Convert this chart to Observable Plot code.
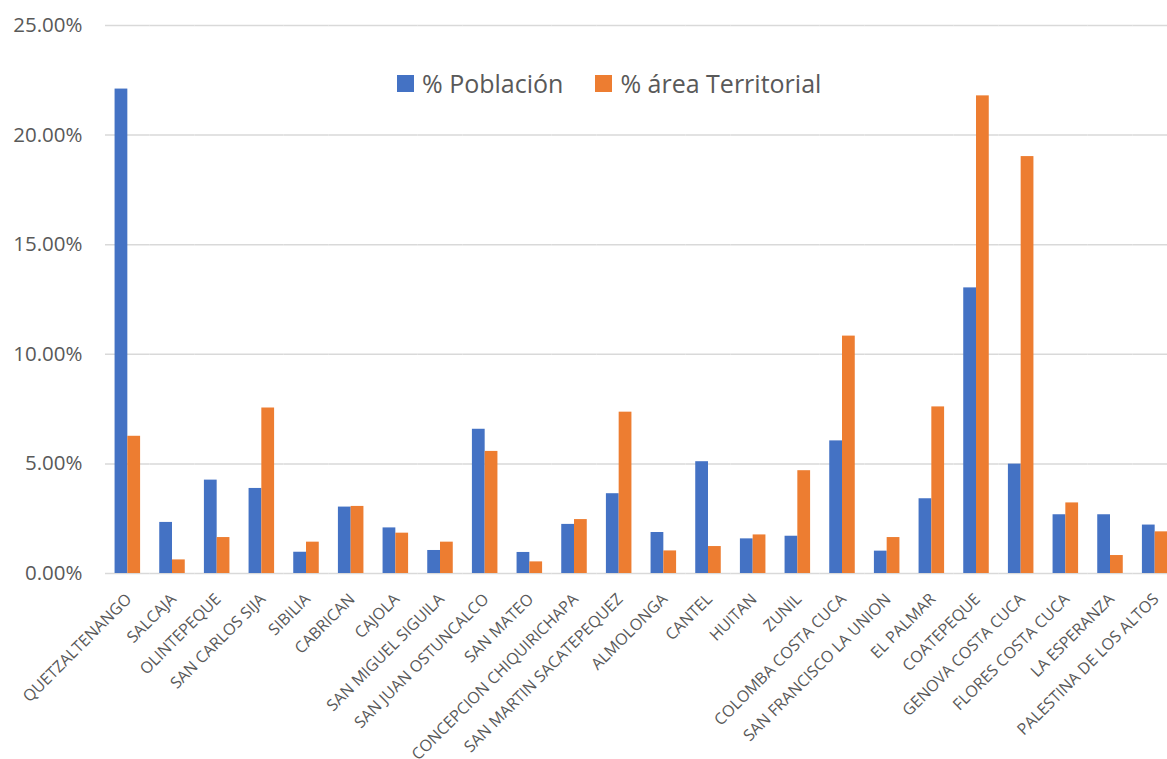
<!DOCTYPE html>
<html><head><meta charset="utf-8">
<script src="https://cdn.jsdelivr.net/npm/d3@7"></script>
<script src="https://cdn.jsdelivr.net/npm/@observablehq/plot@0.6"></script>
<style>
body{margin:0;background:#fff;font-family:"Open Sans",sans-serif;overflow:hidden}
#wrap{position:relative;width:1167px;height:759px;overflow:hidden}
#legend{position:absolute;top:66px;left:397px;display:flex;align-items:center;font-size:25px;line-height:34px;color:#595959;font-family:"Open Sans",sans-serif}
#legend .item{display:flex;align-items:center;margin-right:32px}
#legend .sw{width:17px;height:17px;margin-right:8px}
</style></head>
<body>
<div id="wrap"><div id="chart"></div><div id="legend"></div></div>
<script>
const categories = ["QUETZALTENANGO","SALCAJA","OLINTEPEQUE","SAN CARLOS SIJA","SIBILIA","CABRICAN","CAJOLA","SAN MIGUEL SIGUILA","SAN JUAN OSTUNCALCO","SAN MATEO","CONCEPCION CHIQUIRICHAPA","SAN MARTIN SACATEPEQUEZ","ALMOLONGA","CANTEL","HUITAN","ZUNIL","COLOMBA COSTA CUCA","SAN FRANCISCO LA UNION","EL PALMAR","COATEPEQUE","GENOVA COSTA CUCA","FLORES COSTA CUCA","LA ESPERANZA","PALESTINA DE LOS ALTOS"];
const series = ["% Población","% área Territorial"];
const seriesColors = ["#4472C4","#ED7D31"];
const poblacion = [0.2210,0.0233,0.0426,0.0388,0.0097,0.0303,0.0208,0.0105,0.0658,0.0096,0.0224,0.0364,0.0187,0.0510,0.0158,0.0170,0.0605,0.0102,0.0341,0.1303,0.0499,0.0268,0.0268,0.0221];
const area = [0.0626,0.0062,0.0164,0.0755,0.0143,0.0306,0.0184,0.0143,0.0557,0.0053,0.0246,0.0736,0.0103,0.0123,0.0176,0.0469,0.1083,0.0164,0.0760,0.2179,0.1902,0.0322,0.0082,0.0190];
const yTicks = [0,0.05,0.10,0.15,0.20,0.25];

const data = [];
categories.forEach((c,i)=>{
  data.push({cat:c, serie:series[0], value:poblacion[i]});
  data.push({cat:c, serie:series[1], value:area[i]});
});

const chart = Plot.plot({
  width:1167, height:759,
  marginLeft:105, marginRight:-10, marginTop:25, marginBottom:186,
  style:{fontFamily:"'Open Sans', sans-serif", background:"#fff"},
  fx:{domain:categories, paddingInner:0, paddingOuter:0, round:false},
  x:{domain:series, paddingInner:0, paddingOuter:0.75, round:false, axis:null},
  y:{domain:[0,0.25]},
  color:{domain:series, range:seriesColors},
  marks:[
    Plot.gridY(yTicks,{stroke:"#d9d9d9", strokeOpacity:1, strokeWidth:1.5}),
    Plot.axisY(yTicks,{tickFormat:d3.format(".2%"), tickSize:0, tickPadding:23, fontSize:20.5, fill:"#595959", label:null}),
    Plot.axisFx({anchor:"bottom", tickRotate:-45, tickSize:0, tickPadding:10, dy:13, dx:1, fontSize:16, fill:"#595959", label:null}),
    Plot.barY(data,{fx:"cat", x:"serie", y:"value", fill:"serie"})
  ]
});
document.getElementById("chart").appendChild(chart);

const lg = document.getElementById("legend");
series.forEach((s,i)=>{
  const it = document.createElement("div"); it.className="item";
  const sw = document.createElement("div"); sw.className="sw"; sw.style.background=seriesColors[i];
  const t = document.createElement("span"); t.textContent=s;
  it.appendChild(sw); it.appendChild(t); lg.appendChild(it);
});
</script>
</body></html>
